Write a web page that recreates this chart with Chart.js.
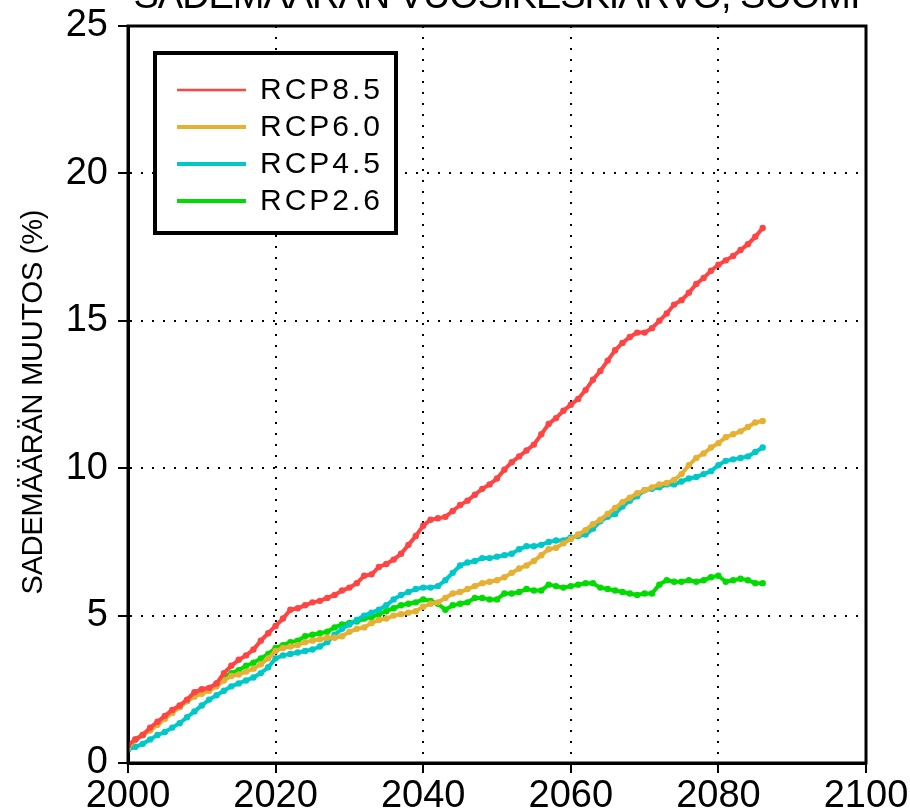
<!DOCTYPE html>
<html>
<head>
<meta charset="utf-8">
<title>Sademäärän muutos</title>
<script src="https://cdn.jsdelivr.net/npm/chart.js@4.4.0/dist/chart.umd.min.js"></script>
<style>
  body { margin: 0; background: #fff; }
  canvas { display: block; }
</style>
</head>
<body>
<canvas id="kuva" width="910" height="812"></canvas>
<script>
// === DATA ===
const vuodet = [
  2000, 2001, 2002, 2003, 2004, 2005, 2006, 2007, 2008, 2009,
  2010, 2011, 2012, 2013, 2014, 2015, 2016, 2017, 2018, 2019,
  2020, 2021, 2022, 2023, 2024, 2025, 2026, 2027, 2028, 2029,
  2030, 2031, 2032, 2033, 2034, 2035, 2036, 2037, 2038, 2039,
  2040, 2041, 2042, 2043, 2044, 2045, 2046, 2047, 2048, 2049,
  2050, 2051, 2052, 2053, 2054, 2055, 2056, 2057, 2058, 2059,
  2060, 2061, 2062, 2063, 2064, 2065, 2066, 2067, 2068, 2069,
  2070, 2071, 2072, 2073, 2074, 2075, 2076, 2077, 2078, 2079,
  2080, 2081, 2082, 2083, 2084, 2085, 2086
];

const rcp85 = [
  0.60, 0.80, 0.95, 1.20, 1.40, 1.60, 1.80, 1.95, 2.15, 2.40,
  2.50, 2.55, 2.70, 3.05, 3.30, 3.50, 3.65, 3.85, 4.15, 4.40,
  4.65, 4.90, 5.20, 5.25, 5.35, 5.45, 5.50, 5.60, 5.70, 5.85,
  5.95, 6.10, 6.35, 6.40, 6.65, 6.75, 6.90, 7.10, 7.40, 7.70,
  8.05, 8.25, 8.30, 8.35, 8.55, 8.75, 8.90, 9.10, 9.30, 9.45,
  9.65, 9.95, 10.20, 10.40, 10.60, 10.80, 11.15, 11.50, 11.70, 11.95,
  12.15, 12.35, 12.65, 13.00, 13.30, 13.65, 14.00, 14.25, 14.45, 14.60,
  14.60, 14.75, 15.00, 15.25, 15.55, 15.70, 15.95, 16.25, 16.45, 16.70,
  16.90, 17.05, 17.20, 17.40, 17.60, 17.85, 18.15
];

const rcp60 = [
  0.50, 0.80, 0.95, 1.10, 1.30, 1.50, 1.70, 1.90, 2.10, 2.25,
  2.35, 2.45, 2.60, 2.80, 2.95, 3.00, 3.10, 3.20, 3.35, 3.55,
  3.80, 3.90, 3.95, 4.00, 4.10, 4.15, 4.20, 4.25, 4.25, 4.30,
  4.45, 4.55, 4.60, 4.75, 4.85, 4.90, 5.00, 5.05, 5.10, 5.15,
  5.30, 5.40, 5.45, 5.60, 5.75, 5.80, 5.90, 6.00, 6.10, 6.15,
  6.20, 6.30, 6.45, 6.60, 6.70, 6.85, 7.05, 7.25, 7.30, 7.45,
  7.60, 7.75, 7.90, 8.10, 8.25, 8.45, 8.65, 8.85, 9.00, 9.15,
  9.25, 9.35, 9.45, 9.50, 9.60, 9.80, 10.10, 10.35, 10.50, 10.70,
  10.85, 11.05, 11.15, 11.25, 11.40, 11.55, 11.60
];

const rcp45 = [
  0.45, 0.55, 0.65, 0.80, 0.95, 1.05, 1.20, 1.35, 1.55, 1.75,
  1.95, 2.15, 2.30, 2.45, 2.60, 2.70, 2.80, 2.90, 3.05, 3.25,
  3.55, 3.65, 3.70, 3.75, 3.80, 3.85, 3.95, 4.10, 4.35, 4.55,
  4.70, 4.85, 5.00, 5.10, 5.20, 5.35, 5.55, 5.70, 5.80, 5.90,
  5.95, 5.95, 6.00, 6.20, 6.45, 6.70, 6.80, 6.85, 6.95, 6.95,
  7.00, 7.05, 7.10, 7.25, 7.35, 7.35, 7.40, 7.50, 7.55, 7.55,
  7.65, 7.70, 7.75, 7.95, 8.20, 8.35, 8.45, 8.70, 8.90, 9.05,
  9.25, 9.30, 9.35, 9.45, 9.45, 9.55, 9.65, 9.70, 9.80, 9.90,
  10.10, 10.25, 10.30, 10.35, 10.40, 10.55, 10.70
];

const rcp26 = [
  0.55, 0.80, 0.95, 1.15, 1.35, 1.55, 1.75, 1.90, 2.10, 2.30,
  2.40, 2.50, 2.70, 2.90, 3.05, 3.15, 3.30, 3.40, 3.55, 3.70,
  3.90, 4.00, 4.10, 4.15, 4.30, 4.35, 4.40, 4.45, 4.60, 4.70,
  4.75, 4.80, 4.90, 4.95, 5.05, 5.15, 5.25, 5.35, 5.40, 5.45,
  5.55, 5.50, 5.40, 5.20, 5.35, 5.40, 5.45, 5.60, 5.60, 5.55,
  5.55, 5.75, 5.75, 5.80, 5.90, 5.85, 5.85, 6.05, 6.00, 5.95,
  6.00, 6.05, 6.10, 6.10, 5.95, 5.90, 5.85, 5.80, 5.75, 5.70,
  5.75, 5.75, 6.05, 6.20, 6.15, 6.15, 6.20, 6.15, 6.20, 6.30,
  6.35, 6.15, 6.20, 6.25, 6.20, 6.10, 6.10
];

const skenaariot = ["RCP8.5", "RCP6.0", "RCP4.5", "RCP2.6"];
const sarjat = [rcp85, rcp60, rcp45, rcp26];
const varit = ["#ff4444", "#e6b033", "#00c8c8", "#00dc00"];
const selitePaksuus = [2.5, 4, 4, 4];

const xTikit = [2000, 2020, 2040, 2060, 2080, 2100];
const yTikit = [0, 5, 10, 15, 20, 25];

const otsikko = "SADEMÄÄRÄN VUOSIKESKIARVO, SUOMI";
const yOtsikko = "SADEMÄÄRÄN MUUTOS (%)";

const FONTTI = "'Liberation Sans', Arial, sans-serif";

// pisteet {x, y} vuosista
function pisteet(arvot) {
  return arvot.map((v, i) => ({ x: vuodet[i], y: v }));
}

const datasets = skenaariot.map((nimi, i) => ({
  label: nimi,
  data: pisteet(sarjat[i]),
  borderColor: varit[i],
  backgroundColor: varit[i],
  borderWidth: 4,
  pointRadius: 3.2,
  pointBorderWidth: 0,
  pointBackgroundColor: varit[i],
  tension: 0,
  fill: false
}));

// harvaan piirretty teksti
function harvaTeksti(ctx, teksti, x, y, leveys) {
  ctx.letterSpacing = "0px";
  const w = ctx.measureText(teksti).width;
  const vali = (leveys - w) / (teksti.length - 1);
  ctx.letterSpacing = vali.toFixed(2) + "px";
  ctx.fillText(teksti, x + vali / 2, y);
  ctx.letterSpacing = "0px";
}

// === KEHYS, SELITE JA OTSIKOT ===
const kehys = {
  id: "kehys",
  afterDraw(chart) {
    const ctx = chart.ctx;
    const a = chart.chartArea;

    ctx.save();
    ctx.strokeStyle = "#000";
    ctx.lineWidth = 3;
    ctx.strokeRect(a.left, a.top, a.right - a.left, a.bottom - a.top);

    // otsikko (leikkautuu yläreunasta)
    ctx.fillStyle = "#000";
    ctx.font = "38px " + FONTTI;
    ctx.textAlign = "center";
    ctx.textBaseline = "alphabetic";
    harvaTeksti(ctx, otsikko, 497, 8, 727);

    // y-akselin otsikko
    ctx.save();
    ctx.translate(34, 402);
    ctx.rotate(-Math.PI / 2);
    ctx.font = "29px " + FONTTI;
    ctx.textBaseline = "middle";
    harvaTeksti(ctx, yOtsikko, 0, 0, 385);
    ctx.restore();

    // selite
    ctx.fillStyle = "#fff";
    ctx.fillRect(155, 53, 241, 180);
    ctx.lineWidth = 4;
    ctx.strokeStyle = "#000";
    ctx.strokeRect(155, 53, 241, 180);

    ctx.font = "30px " + FONTTI;
    ctx.textAlign = "left";
    ctx.textBaseline = "middle";
    ctx.letterSpacing = "3px";
    skenaariot.forEach((nimi, i) => {
      const y = 90 + i * 37;
      ctx.strokeStyle = varit[i];
      ctx.lineWidth = selitePaksuus[i];
      ctx.beginPath();
      ctx.moveTo(177, y);
      ctx.lineTo(246, y);
      ctx.stroke();
      ctx.fillStyle = "#000";
      ctx.fillText(nimi, 260, y + 1);
    });
    ctx.restore();
  }
};

function reunaViiva(min, max) {
  return (c) => {
    const v = c.tick ? c.tick.value : null;
    return (v === min || v === max) ? "rgba(0,0,0,0)" : "#000";
  };
}

const ctx = document.getElementById("kuva").getContext("2d");
const chart = new Chart(ctx, {
  type: "line",
  data: { datasets },
  options: {
    responsive: false,
    animation: false,
    layout: { padding: { left: 0, right: 44, top: 26, bottom: 0 } },
    plugins: {
      legend: { display: false },
      tooltip: { enabled: false }
    },
    scales: {
      x: {
        type: "linear",
        min: 2000,
        max: 2100,
        afterBuildTicks: (s) => { s.ticks = xTikit.map(v => ({ value: v })); },
        afterFit: (s) => {
          s.height = 49;
          s.paddingLeft = 0;
          s.paddingRight = 0;
        },
        ticks: {
          callback: (v) => String(v),
          color: "#000",
          font: { family: FONTTI, size: 38 },
          padding: 1,
          maxRotation: 0,
          autoSkip: false
        },
        grid: {
          color: reunaViiva(2000, 2100),
          lineWidth: 2,
          tickLength: 10,
          tickColor: "#000",
          tickWidth: 2
        },
        border: { display: true, color: "#000", width: 3, dash: [2, 9] }
      },
      y: {
        min: 0,
        max: 25,
        afterBuildTicks: (s) => { s.ticks = yTikit.map(v => ({ value: v })); },
        afterFit: (s) => {
          s.width = 128;
          s.paddingTop = 0;
          s.paddingBottom = 0;
        },
        ticks: {
          color: "#000",
          font: { family: FONTTI, size: 38 },
          padding: 10,
          autoSkip: false
        },
        grid: {
          color: reunaViiva(0, 25),
          lineWidth: 2,
          tickLength: 10,
          tickColor: "#000",
          tickWidth: 2
        },
        border: { display: true, color: "#000", width: 3, dash: [2, 9] }
      }
    }
  },
  plugins: [kehys]
});
</script>
</body>
</html>
